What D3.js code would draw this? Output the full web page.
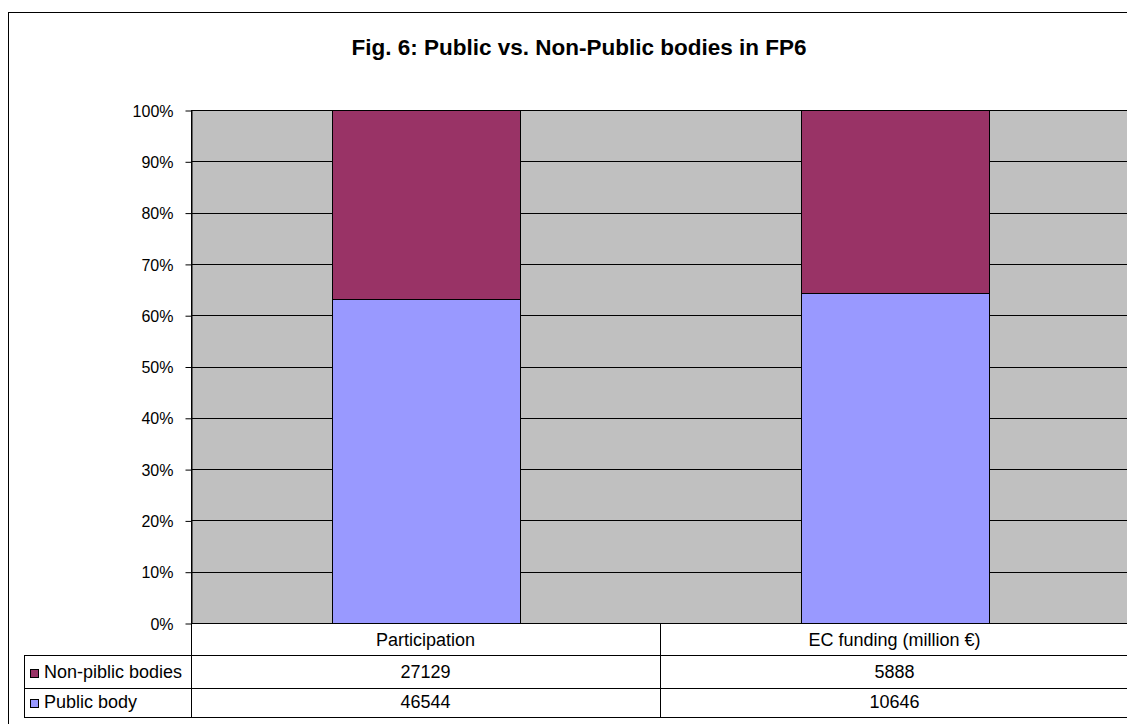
<!DOCTYPE html>
<html><head><meta charset="utf-8">
<script src="https://cdn.jsdelivr.net/npm/d3@7"></script>
<style>body{margin:0;background:#fff;}svg{display:block;font-family:Arial,"Liberation Sans",sans-serif;}</style>
</head><body>
<svg id="c" width="1127" height="724"></svg>
<script>
const categories = ["Participation", "EC funding (million €)"];
const seriesNames = ["Public body", "Non-piblic bodies"];
const publicValues = [46544, 10646];
const nonPublicValues = [27129, 5888];
const yTicks = [0, 0.1, 0.2, 0.3, 0.4, 0.5, 0.6, 0.7, 0.8, 0.9, 1];
const colors = {"Public body": "#9999FF", "Non-piblic bodies": "#993366"};

(function () {
const svg = d3.select("#c");
svg.append("rect").attr("x", 8.5).attr("y", 12.5).attr("width", 1200).attr("height", 800)
  .attr("fill", "#fff").attr("stroke", "#000").attr("stroke-width", 1);

svg.append("text").attr("x", 579).attr("y", 55).attr("text-anchor", "middle")
  .attr("font-size", 22.5).attr("font-weight", "bold").text("Fig. 6: Public vs. Non-Public bodies in FP6");

const pL = 191, pR = 1129, pT = 110, pB = 623;
const x = d3.scaleBand().domain(categories).range([pL, pR]).paddingInner(0.6).paddingOuter(0.3);
const xCol = d3.scaleBand().domain(categories).range([pL, pR]);
const y = d3.scaleLinear().domain([0, 1]).range([pB, pT]);

svg.append("rect").attr("x", pL).attr("y", pT).attr("width", pR - pL).attr("height", pB - pT).attr("fill", "#C0C0C0");

svg.append("g").selectAll("line").data(yTicks.slice(1)).join("line")
  .attr("x1", pL).attr("x2", pR).attr("y1", d => Math.round(y(d)) + 0.5).attr("y2", d => Math.round(y(d)) + 0.5)
  .attr("stroke", "#000").attr("stroke-width", 1);

const table = categories.map((c, i) => ({cat: c, "Public body": publicValues[i], "Non-piblic bodies": nonPublicValues[i]}));
const stacked = d3.stack().keys(seriesNames).offset(d3.stackOffsetExpand)(table);

svg.append("g").selectAll("g").data(stacked).join("g").attr("fill", d => colors[d.key])
  .selectAll("rect").data(d => d).join("rect")
  .attr("x", d => Math.round(x(d.data.cat)) + 0.5)
  .attr("width", Math.round(x.bandwidth()))
  .attr("y", d => Math.round(y(d[1])) + 0.5)
  .attr("height", d => Math.round(y(d[0])) - Math.round(y(d[1])))
  .attr("stroke", "#000").attr("stroke-width", 1);

const yAxis = d3.axisLeft(y).tickValues(yTicks).tickFormat(d3.format(".0%")).tickSize(6).tickSizeOuter(0);
const ga = svg.append("g").attr("transform", `translate(${pL + 0.5},0.5)`).call(yAxis);
ga.attr("font-family", null).attr("font-size", null);
ga.selectAll("text").attr("font-size", 16).attr("fill", "#000").attr("x", -18).attr("dy", "0.35em");
ga.selectAll("line").attr("stroke", "#000");
ga.select(".domain").attr("stroke", "#000");

const tg = svg.append("g").attr("stroke", "#000").attr("stroke-width", 1);
tg.append("line").attr("x1", pL).attr("x2", pR).attr("y1", 623.5).attr("y2", 623.5);
[655, 688, 717].forEach(yy => tg.append("line").attr("x1", 24).attr("x2", pR).attr("y1", yy + 0.5).attr("y2", yy + 0.5));
tg.append("line").attr("x1", pL + 0.5).attr("x2", pL + 0.5).attr("y1", pT).attr("y2", 717.5);
tg.append("line").attr("x1", 24.5).attr("x2", 24.5).attr("y1", 655).attr("y2", 717.5);
categories.slice(1).forEach(c => tg.append("line").attr("x1", xCol(c) + 0.5).attr("x2", xCol(c) + 0.5).attr("y1", 623).attr("y2", 717.5));

svg.append("g").selectAll("text").data(categories).join("text")
  .attr("x", d => xCol(d) + xCol.bandwidth() / 2).attr("y", 646).attr("text-anchor", "middle")
  .attr("font-size", 18).text(d => d);

const rows = [{name: "Non-piblic bodies", vals: nonPublicValues, y: 678}, {name: "Public body", vals: publicValues, y: 708}];
rows.forEach(r => {
  svg.append("rect").attr("x", 30.5).attr("y", r.y - 8.5).attr("width", 8).attr("height", 8)
    .attr("fill", colors[r.name]).attr("stroke", "#000").attr("stroke-width", 1);
  svg.append("text").attr("x", 44).attr("y", r.y).attr("font-size", 18).text(r.name);
  svg.append("g").selectAll("text").data(categories).join("text")
    .attr("x", d => xCol(d) + xCol.bandwidth() / 2).attr("y", r.y).attr("text-anchor", "middle")
    .attr("font-size", 18).text((d, i) => r.vals[i]);
});
})();
</script>
</body></html>
